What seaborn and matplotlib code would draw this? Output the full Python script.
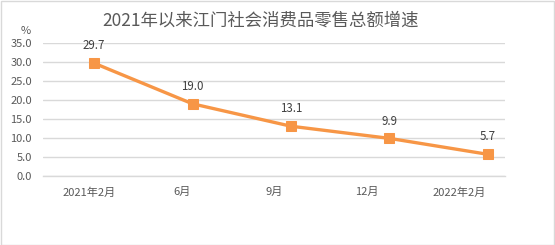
import matplotlib
matplotlib.use("Agg")
import matplotlib.pyplot as plt
import seaborn as sns
import pandas as pd
from matplotlib.patches import Rectangle

categories = ["2021年2月", "6月", "9月", "12月", "2022年2月"]
values = [29.7, 19.0, 13.1, 9.9, 5.7]
yticks = [0, 5, 10, 15, 20, 25, 30, 35]
title = "2021年以来江门社会消费品零售总额增速"

sns.set_theme(style="white")
plt.rcParams['font.family'] = ['Noto Sans CJK SC', 'DejaVu Sans']

W, H = 555, 245
fig = plt.figure(figsize=(W / 100, H / 100), dpi=100)
fig.patch.set_facecolor("white")

L, R, T, B = 43, 505, 43, 176
rect = [L / W, 1 - B / H, (R - L) / W, (B - T) / H]

# category axis (labels, boundary ticks, grid)
axc = fig.add_axes(rect)
axc.set_xlim(-0.5, len(categories) - 0.5)
axc.set_ylim(0, 35)
axc.set_xticks(range(len(categories)))
axc.set_xticklabels(categories, fontsize=8, color="#595959")
axc.set_xticks([i - 0.5 for i in range(len(categories) + 1)], minor=True)
axc.tick_params(axis="x", which="major", length=0, pad=8)
axc.tick_params(axis="x", which="minor", length=4, width=1, color="#d9d9d9", direction="out")
axc.set_yticks(yticks)
axc.set_yticklabels([f"{v:.1f}" for v in yticks], fontsize=8, color="#595959")
axc.tick_params(axis="y", length=0, pad=8)
axc.yaxis.grid(True, color="#d9d9d9", linewidth=1)
for s in ["top", "right", "left"]:
    axc.spines[s].set_visible(False)
axc.spines["bottom"].set_color("#d9d9d9")
axc.spines["bottom"].set_linewidth(1)
axc.set_axisbelow(True)

# line axis
ax = fig.add_axes(rect)
ax.patch.set_alpha(0)
df = pd.DataFrame({"x": range(len(values)), "y": values})
sns.lineplot(data=df, x="x", y="y", ax=ax, color="#F79646", linewidth=2.4,
             marker="s", markersize=7, markeredgecolor="#F79646",
             markerfacecolor="#F79646")
ax.set_xlim(-0.518, 4.173)
ax.set_ylim(0, 35)
ax.axis("off")
for i, v in enumerate(values):
    ax.annotate(f"{v:.1f}", (i, v), xytext=(0, 12.5), textcoords="offset points",
                ha="center", va="center", fontsize=8.3, color="#404040")

fig.text(261 / W, 1 - 21 / H, title, ha="center", va="center", fontsize=12.5, color="#595959")
fig.text(26 / W, 1 - 31 / H, "%", ha="center", va="center", fontsize=8, color="#595959")

fig.patches.append(Rectangle((0.5 / W, 0.5 / H), (W - 1.5) / W, (H - 1.5) / H,
                             transform=fig.transFigure, fill=False,
                             edgecolor="#d9d9d9", linewidth=1))

fig.savefig("out.png", dpi=100)
